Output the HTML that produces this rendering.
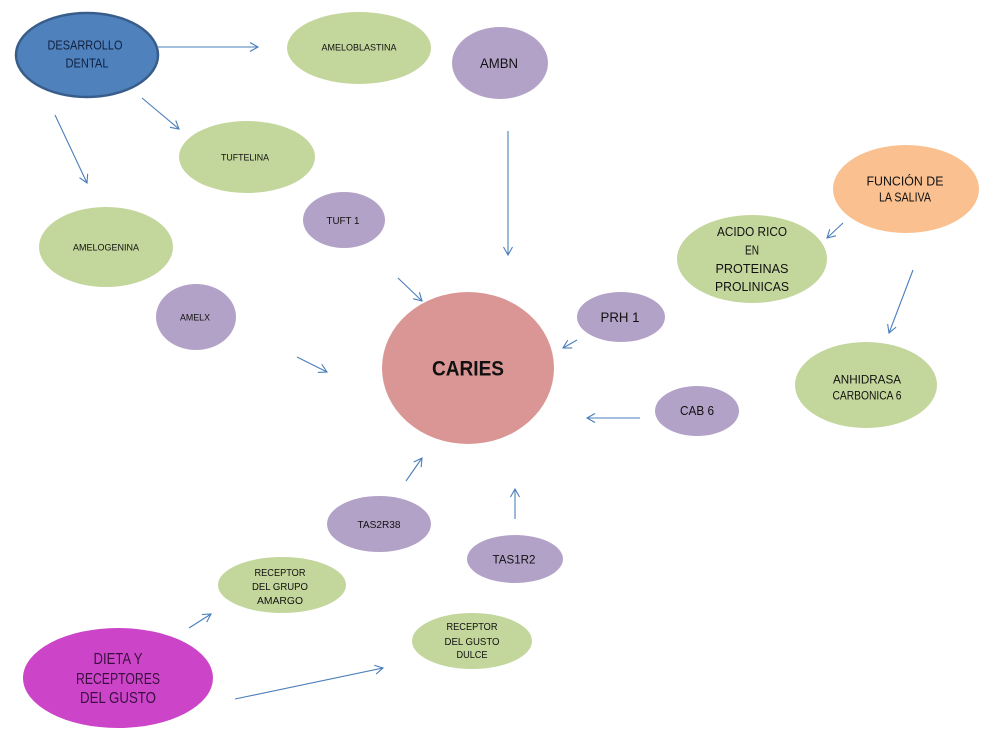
<!DOCTYPE html>
<html>
<head>
<meta charset="utf-8">
<style>
  html,body{margin:0;padding:0;background:#fff;}
  svg{display:block;}
  text{font-family:"Liberation Sans", sans-serif;}
</style>
</head>
<body>
<svg width="984" height="741" viewBox="0 0 984 741" xmlns="http://www.w3.org/2000/svg">
  <defs>
    <marker id="a" markerWidth="12" markerHeight="12" refX="9" refY="5" orient="auto" markerUnits="userSpaceOnUse">
      <path d="M1,0.5 L9,5 L1,9.5" fill="none" stroke="#4a7ebb" stroke-width="1.1"/>
    </marker>
  </defs>
  <rect width="984" height="741" fill="#fff"/>

  <!-- ellipses -->
  <ellipse cx="87" cy="55" rx="71" ry="42" fill="#4f81bd" stroke="#385d8a" stroke-width="2.5"/>
  <ellipse cx="359" cy="48" rx="72" ry="36" fill="#c3d69b"/>
  <ellipse cx="500" cy="63" rx="48" ry="36" fill="#b3a2c7"/>
  <ellipse cx="247" cy="157" rx="68" ry="36" fill="#c3d69b"/>
  <ellipse cx="344" cy="220" rx="41" ry="28" fill="#b3a2c7"/>
  <ellipse cx="106" cy="247" rx="67" ry="40" fill="#c3d69b"/>
  <ellipse cx="196" cy="317" rx="40" ry="33" fill="#b3a2c7"/>
  <ellipse cx="468" cy="368" rx="86" ry="76" fill="#d99694"/>
  <ellipse cx="621" cy="317" rx="44" ry="25" fill="#b3a2c7"/>
  <ellipse cx="906" cy="189" rx="73" ry="44" fill="#fac090"/>
  <ellipse cx="752" cy="259" rx="75" ry="44" fill="#c3d69b"/>
  <ellipse cx="866" cy="385" rx="71" ry="43" fill="#c3d69b"/>
  <ellipse cx="697" cy="411" rx="42" ry="25" fill="#b3a2c7"/>
  <ellipse cx="379" cy="524" rx="52" ry="28" fill="#b3a2c7"/>
  <ellipse cx="515" cy="559" rx="48" ry="24" fill="#b3a2c7"/>
  <ellipse cx="282" cy="585" rx="64" ry="28" fill="#c3d69b"/>
  <ellipse cx="472" cy="641" rx="60" ry="28" fill="#c3d69b"/>
  <ellipse cx="118" cy="678" rx="95" ry="50" fill="#cc44c8"/>

  <!-- arrows -->
  <g stroke="#4a7ebb" stroke-width="1.1" fill="none" marker-end="url(#a)">
    <line x1="157" y1="47" x2="258" y2="47"/>
    <line x1="142" y1="98" x2="179" y2="129"/>
    <line x1="55" y1="115" x2="87" y2="183"/>
    <line x1="508" y1="131" x2="508" y2="255"/>
    <line x1="398" y1="278" x2="422" y2="301"/>
    <line x1="297" y1="357" x2="327" y2="372"/>
    <line x1="577" y1="340" x2="563" y2="348"/>
    <line x1="640" y1="418" x2="587" y2="418"/>
    <line x1="843" y1="223" x2="827" y2="238"/>
    <line x1="913" y1="270" x2="889" y2="333"/>
    <line x1="406" y1="481" x2="422" y2="458"/>
    <line x1="515" y1="519" x2="515" y2="489"/>
    <line x1="189" y1="628" x2="211" y2="614"/>
    <line x1="235" y1="699" x2="383" y2="668"/>
  </g>

  <!-- labels -->
  <g text-anchor="middle" lengthAdjust="spacingAndGlyphs">
    <text x="85" y="49.5" font-size="12.5" fill="#10213f" textLength="75" lengthAdjust="spacingAndGlyphs">DESARROLLO</text>
    <text x="87" y="67.5" font-size="12.5" fill="#10213f" textLength="43" lengthAdjust="spacingAndGlyphs">DENTAL</text>

    <text x="359" y="50.5" font-size="9.5" fill="#111" textLength="75" lengthAdjust="spacingAndGlyphs">AMELOBLASTINA</text>
    <text x="499" y="68" font-size="13.5" fill="#111" textLength="38" lengthAdjust="spacingAndGlyphs">AMBN</text>
    <text x="245" y="160.5" font-size="9.5" fill="#111" textLength="48" lengthAdjust="spacingAndGlyphs">TUFTELINA</text>
    <text x="343" y="224" font-size="10.5" fill="#111" textLength="33" lengthAdjust="spacingAndGlyphs">TUFT 1</text>
    <text x="106" y="250.5" font-size="9.5" fill="#111" textLength="66" lengthAdjust="spacingAndGlyphs">AMELOGENINA</text>
    <text x="195" y="320.5" font-size="9.5" fill="#111" textLength="30" lengthAdjust="spacingAndGlyphs">AMELX</text>

    <text x="468" y="375.5" font-size="21" font-weight="bold" fill="#111" textLength="72" lengthAdjust="spacingAndGlyphs">CARIES</text>
    <text x="620" y="322" font-size="13.5" fill="#111" textLength="39" lengthAdjust="spacingAndGlyphs">PRH 1</text>

    <text x="905" y="185.7" font-size="13" fill="#111" textLength="77" lengthAdjust="spacingAndGlyphs">FUNCIÓN DE</text>
    <text x="905" y="201.7" font-size="13" fill="#111" textLength="52" lengthAdjust="spacingAndGlyphs">LA SALIVA</text>

    <text x="752" y="236.2" font-size="12.5" fill="#111" textLength="70" lengthAdjust="spacingAndGlyphs">ACIDO RICO</text>
    <text x="752" y="254.5" font-size="12.5" fill="#111" textLength="14" lengthAdjust="spacingAndGlyphs">EN</text>
    <text x="752" y="272.8" font-size="12.5" fill="#111" textLength="73" lengthAdjust="spacingAndGlyphs">PROTEINAS</text>
    <text x="752" y="291.2" font-size="12.5" fill="#111" textLength="74" lengthAdjust="spacingAndGlyphs">PROLINICAS</text>

    <text x="867" y="383.3" font-size="12" fill="#111" textLength="68" lengthAdjust="spacingAndGlyphs">ANHIDRASA</text>
    <text x="867" y="399.3" font-size="12" fill="#111" textLength="69" lengthAdjust="spacingAndGlyphs">CARBONICA 6</text>

    <text x="697" y="415.2" font-size="12.5" fill="#111" textLength="34" lengthAdjust="spacingAndGlyphs">CAB 6</text>

    <text x="379" y="527.8" font-size="10.5" fill="#111" textLength="43" lengthAdjust="spacingAndGlyphs">TAS2R38</text>
    <text x="514" y="563.3" font-size="12" fill="#111" textLength="43" lengthAdjust="spacingAndGlyphs">TAS1R2</text>

    <text x="280" y="575.8" font-size="10.5" fill="#111" textLength="51" lengthAdjust="spacingAndGlyphs">RECEPTOR</text>
    <text x="280" y="589.8" font-size="10.5" fill="#111" textLength="56" lengthAdjust="spacingAndGlyphs">DEL GRUPO</text>
    <text x="280" y="603.8" font-size="10.5" fill="#111" textLength="46" lengthAdjust="spacingAndGlyphs">AMARGO</text>

    <text x="472" y="629.8" font-size="10.5" fill="#111" textLength="51" lengthAdjust="spacingAndGlyphs">RECEPTOR</text>
    <text x="472" y="644.8" font-size="10.5" fill="#111" textLength="55" lengthAdjust="spacingAndGlyphs">DEL GUSTO</text>
    <text x="472" y="657.8" font-size="10.5" fill="#111" textLength="31" lengthAdjust="spacingAndGlyphs">DULCE</text>

    <text x="118" y="663.8" font-size="16" fill="#3a1040" textLength="49" lengthAdjust="spacingAndGlyphs">DIETA Y</text>
    <text x="118" y="683.8" font-size="16" fill="#3a1040" textLength="84" lengthAdjust="spacingAndGlyphs">RECEPTORES</text>
    <text x="118" y="702.8" font-size="16" fill="#3a1040" textLength="76" lengthAdjust="spacingAndGlyphs">DEL GUSTO</text>
  </g>
</svg>
</body>
</html>
